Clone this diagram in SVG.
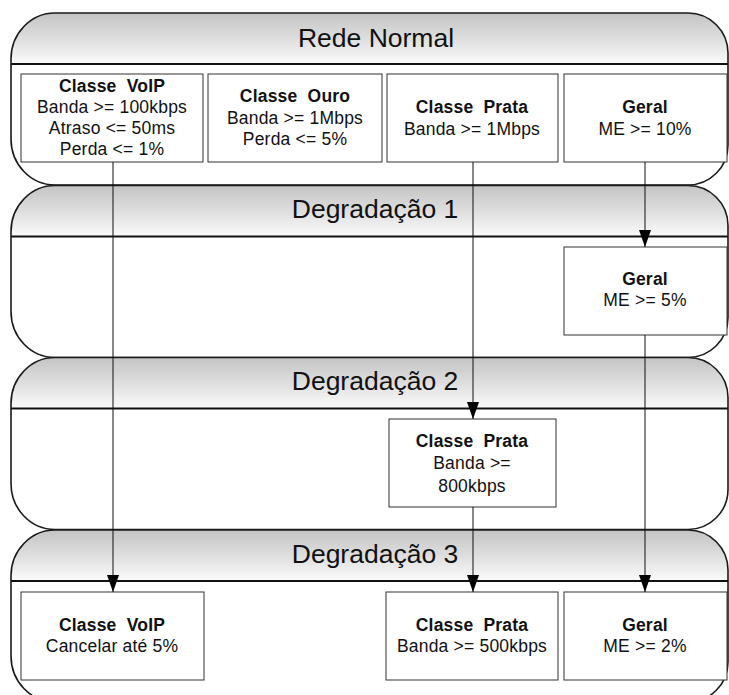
<svg xmlns="http://www.w3.org/2000/svg" xmlns:xlink="http://www.w3.org/1999/xlink" width="729" height="695" viewBox="0 0 729 695">
<style>
.panel-body{fill:#ffffff;stroke:none}
.panel-head{fill:url(#headGrad);stroke:none}
.panel-edge{fill:none;stroke:#1a1a1a;stroke-width:1.6}
.head-line{stroke:#111;stroke-width:2}
.title{font-family:"Liberation Sans",Arial,sans-serif;font-size:26.5px;fill:#111;text-anchor:middle}
.box{fill:#ffffff;stroke:#333;stroke-width:1}
.t{font-family:"Liberation Sans",Arial,sans-serif;font-size:17.5px;letter-spacing:0.2px;fill:#111;text-anchor:middle;white-space:pre}
.b{font-weight:bold}
.conn{stroke:#111;stroke-width:1;fill:none}
</style>
<defs>
<linearGradient id="headGrad" x1="0" y1="0" x2="0" y2="1">
<stop offset="0" stop-color="#c4c4c4"/>
<stop offset="0.5" stop-color="#dedede"/>
<stop offset="1" stop-color="#fbfbfb"/>
</linearGradient>
<!-- swimlane outline, 717 x 172, header band 51 high -->
<path id="laneShape" d="M55,0 H688 A40 40 0 0 1 728,40 V132 A40 40 0 0 1 688,172 H55 A44 46 0 0 1 11,126 V46 A44 46 0 0 1 55,0 Z"/>
<path id="laneHead" d="M11,51 V46 A44 46 0 0 1 55,0 H688 A40 40 0 0 1 728,40 V51 Z"/>
<marker id="arrow" markerWidth="17" markerHeight="12" refX="17" refY="6" orient="auto" markerUnits="userSpaceOnUse" viewBox="0 0 17 12">
<path d="M0,0 L17,6 L0,12 Z" fill="#000"/>
</marker>
</defs>

<!-- swimlanes -->
<g id="lane-rede-normal" transform="translate(0,13)">
<use xlink:href="#laneShape" class="panel-body"/>
<use xlink:href="#laneHead" class="panel-head"/>
<line x1="11" y1="51" x2="728" y2="51" class="head-line"/>
<use xlink:href="#laneShape" class="panel-edge"/>
<text x="376" y="34" class="title">Rede Normal</text>
</g>
<g id="lane-degradacao-1" transform="translate(0,185.5)">
<use xlink:href="#laneShape" class="panel-body"/>
<use xlink:href="#laneHead" class="panel-head"/>
<line x1="11" y1="51" x2="728" y2="51" class="head-line"/>
<use xlink:href="#laneShape" class="panel-edge"/>
<text x="375" y="32" class="title">Degradação 1</text>
</g>
<g id="lane-degradacao-2" transform="translate(0,357.5)">
<use xlink:href="#laneShape" class="panel-body"/>
<use xlink:href="#laneHead" class="panel-head"/>
<line x1="11" y1="51" x2="728" y2="51" class="head-line"/>
<use xlink:href="#laneShape" class="panel-edge"/>
<text x="375" y="32" class="title">Degradação 2</text>
</g>
<g id="lane-degradacao-3" transform="translate(0,530)">
<use xlink:href="#laneShape" class="panel-body"/>
<use xlink:href="#laneHead" class="panel-head"/>
<line x1="11" y1="51" x2="728" y2="51" class="head-line"/>
<use xlink:href="#laneShape" class="panel-edge"/>
<text x="375" y="33" class="title">Degradação 3</text>
</g>

<!-- Rede Normal -->
<g id="normal-voip">
<rect x="21" y="74" width="182" height="88" class="box"/>
<text x="112" y="92" class="t b" xml:space="preserve">Classe  VoIP</text>
<text x="112" y="113" class="t">Banda &gt;= 100kbps</text>
<text x="112" y="134" class="t">Atraso &lt;= 50ms</text>
<text x="112" y="155" class="t">Perda &lt;= 1%</text>
</g>
<g id="normal-ouro">
<rect x="208" y="74" width="174" height="88" class="box"/>
<text x="295" y="102" class="t b" xml:space="preserve">Classe  Ouro</text>
<text x="295" y="124" class="t">Banda &gt;= 1Mbps</text>
<text x="295" y="145" class="t">Perda &lt;= 5%</text>
</g>
<g id="normal-prata">
<rect x="387" y="74" width="171" height="88" class="box"/>
<text x="472" y="113" class="t b" xml:space="preserve">Classe  Prata</text>
<text x="472" y="135" class="t">Banda &gt;= 1Mbps</text>
</g>
<g id="normal-geral">
<rect x="564" y="74" width="163" height="88" class="box"/>
<text x="645" y="113" class="t b">Geral</text>
<text x="645" y="135" class="t">ME &gt;= 10%</text>
</g>

<!-- Degradação 1 -->
<g id="deg1-geral">
<rect x="564" y="247" width="163" height="88" class="box"/>
<text x="645" y="285" class="t b">Geral</text>
<text x="645" y="306" class="t">ME &gt;= 5%</text>
</g>

<!-- Degradação 2 -->
<g id="deg2-prata">
<rect x="389" y="419" width="167" height="88" class="box"/>
<text x="472" y="447" class="t b" xml:space="preserve">Classe  Prata</text>
<text x="472" y="469" class="t">Banda &gt;=</text>
<text x="472" y="492" class="t">800kbps</text>
</g>

<!-- Degradação 3 -->
<g id="deg3-voip">
<rect x="21" y="592" width="183" height="88" class="box"/>
<text x="112" y="631" class="t b" xml:space="preserve">Classe  VoIP</text>
<text x="112" y="652" class="t">Cancelar até 5%</text>
</g>
<g id="deg3-prata">
<rect x="386" y="592" width="172" height="88" class="box"/>
<text x="472" y="631" class="t b" xml:space="preserve">Classe  Prata</text>
<text x="472" y="652" class="t">Banda &gt;= 500kbps</text>
</g>
<g id="deg3-geral">
<rect x="564" y="592" width="163" height="88" class="box"/>
<text x="645" y="631" class="t b">Geral</text>
<text x="645" y="652" class="t">ME &gt;= 2%</text>
</g>

<!-- connectors -->
<g id="connectors">
<line x1="113" y1="162" x2="113" y2="592" class="conn" marker-end="url(#arrow)"/>
<line x1="473" y1="162" x2="473" y2="419" class="conn" marker-end="url(#arrow)"/>
<line x1="473" y1="507" x2="473" y2="592" class="conn" marker-end="url(#arrow)"/>
<line x1="645" y1="162" x2="645" y2="247" class="conn" marker-end="url(#arrow)"/>
<line x1="645" y1="335" x2="645" y2="592" class="conn" marker-end="url(#arrow)"/>
</g>
</svg>
